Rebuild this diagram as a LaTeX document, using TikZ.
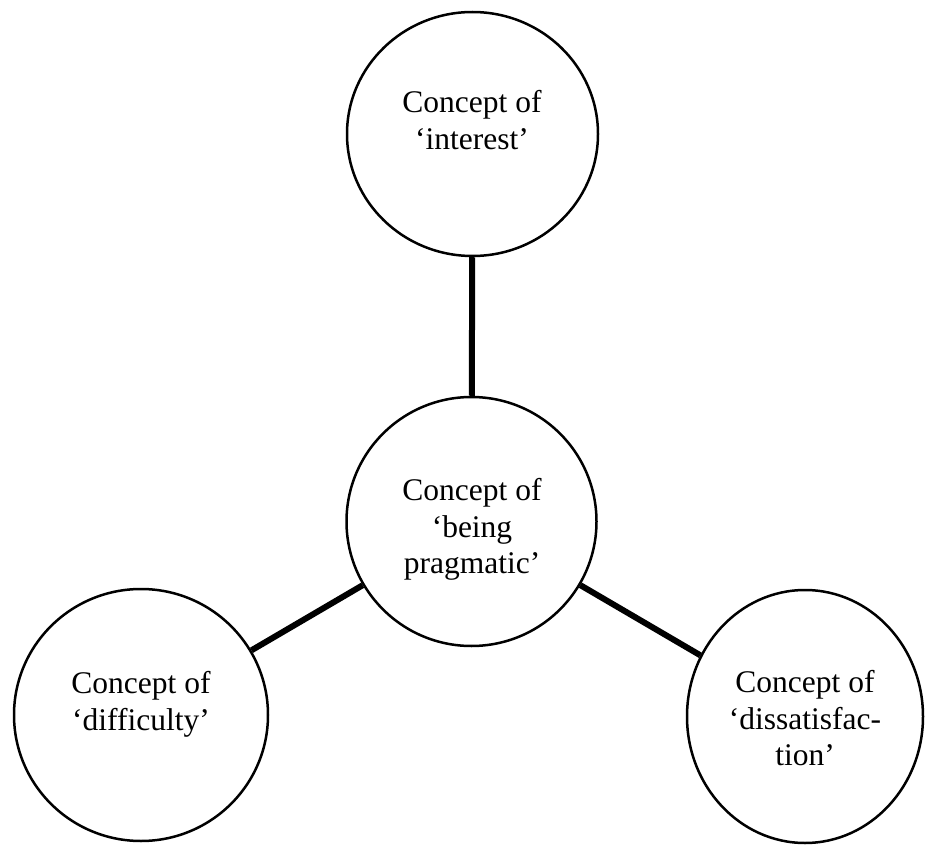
\documentclass[tikz,border=0pt]{standalone}
\usepackage{fontspec}
\setmainfont{Liberation Serif}
\usetikzlibrary{shapes.geometric}
\begin{document}
\begin{tikzpicture}[x=1pt,y=-1pt,
  concept/.style={ellipse,draw=black,line width=2.5pt,inner sep=0pt,fill=white},
  label/.style={align=center,inner sep=0pt,anchor=north,font=\fontsize{31.5}{36.5}\selectfont},
  link/.style={line width=6pt,draw=black}]
\useasboundingbox (0,0) rectangle (927,845);
\node[concept,minimum width=251pt,minimum height=244pt] (T) at (472.5,134) {};
\node[concept,minimum width=250pt,minimum height=249pt] (C) at (471.5,521.5) {};
\node[concept,minimum width=254pt,minimum height=252pt] (L) at (141,715) {};
\node[concept,minimum width=236pt,minimum height=253pt] (R) at (805,716.5) {};
\draw[link] (C) -- (T);
\draw[link] (C) -- (L);
\draw[link] (C) -- (R);
\node[label] (tT) at (472,90.5) {Concept of\\`interest'};
\node[label] (tC) at (472,478.5) {Concept of\\`being\\pragmatic'};
\node[label] (tL) at (141,671.5) {Concept of\\`difficulty'};
\node[label] (tR) at (805,670.5) {Concept of\\`dissatisfac-\\tion'};
\end{tikzpicture}
\end{document}
